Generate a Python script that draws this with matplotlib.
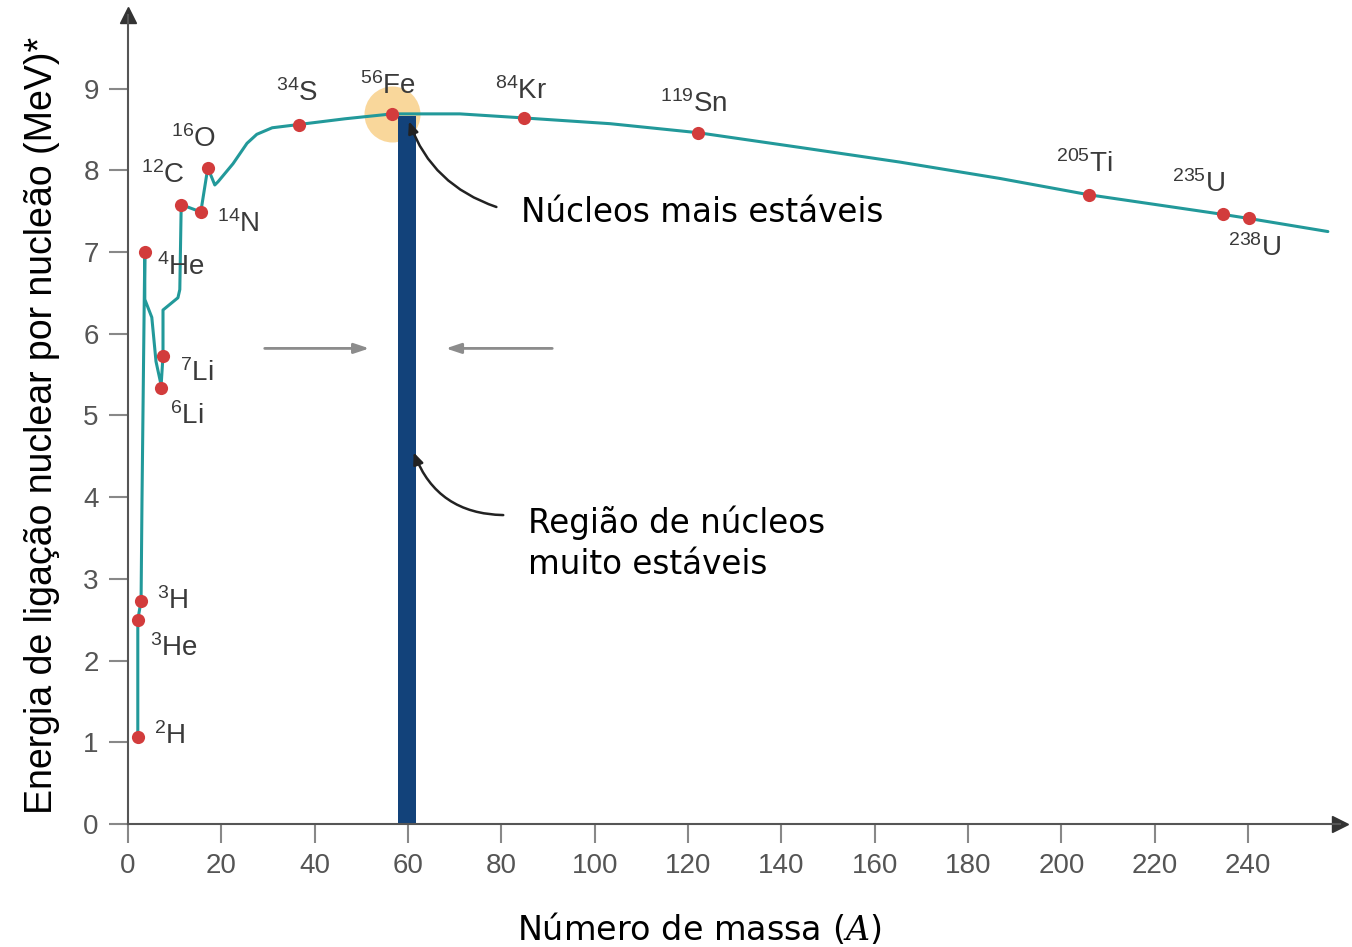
import matplotlib
matplotlib.use("Agg")
import matplotlib.pyplot as plt

plt.rcParams["font.family"] = ["Liberation Sans", "DejaVu Sans"]
plt.rcParams["mathtext.fontset"] = "custom"
plt.rcParams["mathtext.rm"] = "Liberation Sans"
plt.rcParams["mathtext.it"] = "DejaVu Serif:italic"

# ---- dados ----
iso_names = ["$^{\\mathrm{2}}$H", "$^{\\mathrm{3}}$He", "$^{\\mathrm{3}}$H", "$^{\\mathrm{4}}$He",
             "$^{\\mathrm{6}}$Li", "$^{\\mathrm{7}}$Li", "$^{\\mathrm{12}}$C", "$^{\\mathrm{14}}$N",
             "$^{\\mathrm{16}}$O", "$^{\\mathrm{34}}$S", "$^{\\mathrm{56}}$Fe", "$^{\\mathrm{84}}$Kr",
             "$^{\\mathrm{119}}$Sn", "$^{\\mathrm{205}}$Ti", "$^{\\mathrm{235}}$U", "$^{\\mathrm{238}}$U"]
iso_A = [2.1, 2.1, 2.8, 3.6, 7.1, 7.5, 11.4, 15.6, 17.1, 36.6, 56.6, 84.9, 122.1, 205.9, 234.6, 240.2]
iso_E = [1.07, 2.50, 2.73, 7.00, 5.33, 5.73, 7.58, 7.49, 8.03, 8.56, 8.69, 8.64, 8.46, 7.70, 7.46, 7.41]
# deslocamento dos rótulos (pixels)
iso_off = [(16, 0), (12, -28), (16, 0), (12, -15), (9, -28), (17, -17), (-40, 29), (16, -12),
           (-37, 29), (-23, 31), (-32, 28), (-29, 27), (-38, 29), (-33, 31), (-51, 30), (-21, -30)]

curve_A = [2.1, 2.1, 2.8, 3.0, 3.4, 3.6, 3.6, 5.1, 6.0, 7.1, 7.5, 7.5, 10.7, 11.1, 11.4, 15.6,
           17.1, 18.6, 19.3, 22.5, 25.5, 27.6, 30.9, 36.6, 46.5, 56.6, 71.1, 84.9, 103.3, 122.1,
           143.9, 165.4, 186.8, 205.9, 234.6, 240.2, 257.1]
curve_E = [1.07, 2.50, 2.73, 3.97, 6.00, 7.00, 6.42, 6.20, 5.66, 5.37, 5.73, 6.29, 6.44, 6.54,
           7.58, 7.49, 8.03, 7.82, 7.86, 8.08, 8.33, 8.44, 8.52, 8.56, 8.63, 8.69, 8.69, 8.64,
           8.57, 8.46, 8.28, 8.10, 7.90, 7.70, 7.46, 7.41, 7.25]

fe_A, fe_E = 56.6, 8.69
bar_left, bar_right, bar_top = 57.9, 61.7, 8.67

fig = plt.figure(figsize=(13.52, 9.47), dpi=100)
ax = fig.add_axes([128 / 1352, 1 - 824 / 947, (1340 - 128) / 1352, (824 - 15) / 947])
ax.set_xlim(0, 259.7)
ax.set_ylim(0, 9.9)

# região muito estável
ax.bar((bar_left + bar_right) / 2, bar_top, width=bar_right - bar_left, color="#12427a", zorder=2)
ax.scatter([fe_A], [fe_E], s=(56 * 0.72) ** 2, color="#f9d08a", alpha=0.85, zorder=1, lw=0)

ax.plot(curve_A, curve_E, color="#22999a", lw=2.2, zorder=3,
        solid_joinstyle="round", solid_capstyle="round")
ax.scatter(iso_A, iso_E, s=90, color="#d23c3c", zorder=4, lw=0)

for name, a, e, off in zip(iso_names, iso_A, iso_E, iso_off):
    ax.annotate(name, (a, e), xytext=off, textcoords="offset pixels",
                ha="left", va="center", fontsize=20, color="#3a3a3a")

# setas cinzentas
ax.annotate("", xy=(52.3, 5.82), xytext=(28.7, 5.82),
            arrowprops=dict(arrowstyle="-|>,head_length=0.9,head_width=0.3", color="#8c8c8c", lw=2))
ax.annotate("", xy=(67.5, 5.82), xytext=(91.5, 5.82),
            arrowprops=dict(arrowstyle="-|>,head_length=0.9,head_width=0.3", color="#8c8c8c", lw=2))

# setas pretas e textos
ax.annotate("", xy=(60.0, 8.63), xytext=(79.5, 7.54),
            arrowprops=dict(arrowstyle="-|>,head_length=0.7,head_width=0.3", color="#222222",
                            lw=1.8, connectionstyle="arc3,rad=-0.25"))
ax.text(84.2, 7.48, "Núcleos mais estáveis", fontsize=23.5, family="DejaVu Sans",
        ha="left", va="center", color="black")
ax.annotate("", xy=(61.0, 4.58), xytext=(81.0, 3.78),
            arrowprops=dict(arrowstyle="-|>,head_length=0.7,head_width=0.3", color="#222222",
                            lw=1.8, connectionstyle="arc3,rad=-0.35"))
ax.text(85.7, 3.44, "Região de núcleos\nmuito estáveis", fontsize=23.5, family="DejaVu Sans",
        ha="left", va="center", color="black", linespacing=1.3)

# eixos
for s in ["top", "right"]:
    ax.spines[s].set_visible(False)
for s in ["left", "bottom"]:
    ax.spines[s].set_color("#555555")
    ax.spines[s].set_linewidth(1.5)
ax.plot(1, 0, ">", transform=ax.transAxes, color="#333333", ms=11, clip_on=False)
ax.plot(0, 1, "^", transform=ax.transAxes, color="#333333", ms=11, clip_on=False)

ax.set_xticks(range(0, 241, 20))
ax.set_yticks(range(0, 10))
ax.tick_params(length=14, width=1.5, color="#888888", labelcolor="#555555",
               labelsize=20, pad=7)

ax.set_xlabel("Número de massa ($A$)", fontsize=24, family="DejaVu Sans")
ax.xaxis.set_label_coords(0.471, -0.108)
ax.set_ylabel("Energia de ligação nuclear por nucleão (MeV)*", fontsize=27)
ax.yaxis.set_label_coords(-0.056, 0.493)

fig.savefig("out.png", dpi=100)
